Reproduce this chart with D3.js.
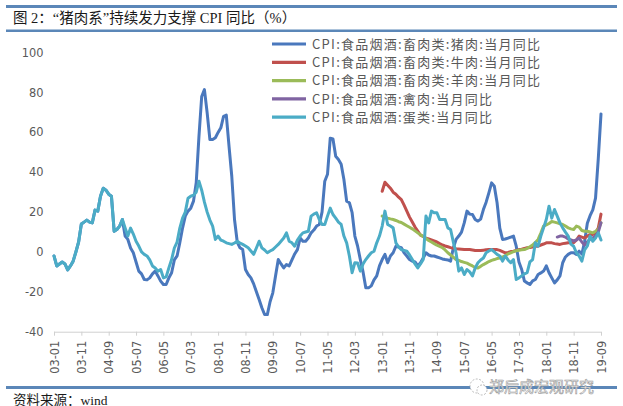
<!DOCTYPE html>
<html><head><meta charset="utf-8">
<script src="https://cdn.jsdelivr.net/npm/d3@7/dist/d3.min.js"></script>
<style>
html,body{margin:0;padding:0;background:#fff;}
svg{display:block;}
</style>
</head><body>
<script>
// ---------- DATA ----------
const startMonth = "2003-01"; // monthly series, index 0 = 2003-01, index 200 = 2019-09
const tickLabels = ["03-01","03-11","04-09","05-07","06-05","07-03","08-01","08-11","09-09","10-07",
  "11-05","12-03","13-01","13-11","14-09","15-07","16-05","17-03","18-01","18-11","19-09"];
const yTicks = [-40,-20,0,20,40,60,80,100];
const seriesNames = ["CPI:食品烟酒:畜肉类:猪肉:当月同比","CPI:食品烟酒:畜肉类:牛肉:当月同比",
  "CPI:食品烟酒:畜肉类:羊肉:当月同比","CPI:食品烟酒:禽肉:当月同比","CPI:食品烟酒:蛋类:当月同比"];
const seriesStart = [0,120,120,184,0];

const pork = [-2,-7,-6,-5,-6,-9,-7,-4.6,0,5,
 14,15,16,15,14.6,21,20.5,28,32,31,
 29,28,10.4,11.3,13,16.3,8,6.3,2,-0.4,
 -5,-9.6,-11,-13.8,-14,-13,-11,-9.6,-12,-14.6,
 -16.3,-16.3,-13,-10.4,-4,-2,4.6,12,18,20.5,
 22,25.5,34.7,58,78,81.5,69.8,56.4,56.4,57.3,
 60,62.3,68.1,68.7,53,38,16.3,5,2.1,1.2,
 -8.8,-11.3,-13,-16,-20,-23.8,-28,-31.4,-31.4,-25,
 -20.5,-12,-3.8,-6,-8,-6.3,-7,-4,-1,1.2,
 7,5.4,5.4,7,9.6,11,13,13.8,20,35.5,
 39,57.1,56.7,48,46.4,44,36.4,25.5,24.7,19.7,
 8,3,-3.8,-10,-18,-18,-17,-14,-12,-7,
 -3.8,-1.2,-5.4,-2,-0.4,2.9,2.5,2.1,-0.4,-2,
 -3.8,-4.6,-5,-7,-5.4,-3,-0.4,-1.5,-2,-2,
 -2.5,-3,-3.5,-3.8,-4,-4.6,2,6.3,8,10,
 14.6,20.5,19,18.8,16.3,15.5,16.5,21.3,25,29.7,
 34.7,33,24.7,12,6.3,6.5,7,7.5,8,2.9,
 -5,-8.8,-14.6,-15.5,-16.3,-14.5,-13.8,-11.3,-10.5,-9.6,
 -7,-10.4,-13,-15.5,-14,-12,-5.4,-2.5,-1.2,-0.4,
 -0.4,-1.2,0.4,-1,5.1,14.4,18.2,21.1,27,46.7,
 69.3];

const beef = [30.5,35,33.5,32,30,29,27.5,26.3,23.5,20.5,
 17.5,15,12.5,10.5,8.5,7.8,7,6.5,6,5.5,
 5,4.2,3.5,3,2.6,2.2,1.9,1.6,1.5,1.4,
 1.3,1.2,1.2,1,0.8,0.7,0.7,0.9,1.1,1.2,
 1.2,1.2,1.2,0.8,0.2,-0.4,-0.2,0.2,0.4,0.8,
 1.2,1.4,1.8,2.1,2.3,2.5,2.9,2.9,3.5,4,
 4.6,4.6,4.6,4.2,4,3.8,4.2,4.4,4.6,4.6,
 4.6,6,8,7.5,7,8,8.8,8.8,9.5,12,
 19];

const mutton = [18,17.5,17,16.6,16.3,15.8,15.2,14.8,14,13.2,
 12.4,11.6,10.6,9.6,8.6,7.8,6.8,5.8,5,4.2,
 3.4,2.8,2.2,1,-0.4,-1.5,-2.6,-3.8,-4.2,-4.8,
 -5.2,-5.6,-6.3,-7,-7.8,-8,-7.2,-6.3,-5.6,-4.8,
 -4.2,-3.8,-3.3,-3,-2.5,-1.8,-1,-0.4,0.2,0.6,
 0.9,1.1,1.2,1.8,2.6,3.5,4.8,6.3,9.5,13,
 13.6,14.3,15.3,15,14.6,14.2,13.8,13,12.1,11.6,
 11.3,13,12.5,10.8,10.4,10.4,10,9.6,10.4,11.3,
 14.6];

const poultry = [7.5,8,8,7.5,6.5,6,5.5,6,7,5,3.5,5,6.5,7,8,10,14.7];

const egg = [-2,-7,-6,-5,-6,-9,-7,-4.6,0,5,
 14,15,16,15,14.6,21,20.5,28,32,31,
 29,28,10.4,11.3,13,16.3,12,8,12,9,
 5.4,3,0,-1.2,-2,-4,-7,-8,-9.6,-8.8,
 -13,-12.5,-8,-3.8,2,5,12,17,20,27,
 28,28.5,30,35.5,31,25,20,16,13,6.3,
 8,6,5.4,4.6,4.2,3.8,4.5,5.4,4.5,3.8,
 3,2.1,0.5,-1.2,2,5.4,2.1,1,-0.4,0.5,
 1.2,2.5,3.8,5.4,7,9.6,5.4,4.6,2.9,6,
 8,9.6,10,10.4,18,19,19.7,16.3,13.8,13.8,
 18,22,18.8,17,15,13.8,8,4.6,-2,-10.4,
 -5.4,-5.5,-9.6,-6,-3.8,-2,-0.4,0.4,4.6,8,
 13,20.5,13.8,13,12.1,4.6,2.5,1.2,0.8,0.4,
 -1.5,-3.8,-6,-8,-6,-3.8,18,14.6,20.5,19.7,
 19.7,16.3,16.3,16.3,12.1,11.3,5,-0.4,-9.6,-8,
 -11.3,-8.8,-10,-12,-8,-5.4,-4,-3,-0.4,0.5,
 1.2,0,-1.2,-2,-4.6,-2,-4,-5.4,-3.8,-13.8,
 -13,-12,-11,-10.4,-5,-3.8,4.6,2.9,8,12.1,
 16.3,23,17,21.3,18,14.6,12.1,10,8,4,
 2.9,-0.4,-2,-4.6,1,3,8,5.4,7,9.6,
 6];

const seriesValues = [pork, beef, mutton, poultry, egg];
const colors = ["#4a78bd","#c0504d","#9bbb59","#8064a2","#4bacc6"];

// ---------- CHART ----------
const W = 623, H = 406;
const svg = d3.select("body").append("svg").attr("width", W).attr("height", H);

// decorative bars
const barColor = "#5b87b8";
svg.append("rect").attr("x",6).attr("y",5).attr("width",611).attr("height",3).attr("fill",barColor);
svg.append("rect").attr("x",6).attr("y",29.5).attr("width",611).attr("height",2.5).attr("fill",barColor);
svg.append("rect").attr("x",6).attr("y",386).attr("width",611).attr("height",3).attr("fill",barColor);

svg.append("text").attr("x",13).attr("y",23)
  .attr("font-family","'Liberation Serif','Noto Sans CJK SC',serif")
  .attr("font-size",14.5).attr("fill","#1a1a1a")
  .text("图 2：“猪肉系”持续发力支撑 CPI 同比（%）");

svg.append("text").attr("x",13).attr("y",404.5)
  .attr("font-family","'Liberation Serif','Noto Sans CJK SC',serif")
  .attr("font-size",13.5).attr("fill","#1a1a1a")
  .text("资料来源：wind");

const x = d3.scaleLinear().domain([0,200]).range([54,601]);
const y = d3.scaleLinear().domain([-40,100]).range([331.7,52.7]);

// y labels
svg.append("g").selectAll("text").data(yTicks).join("text")
  .attr("x",43.5).attr("y",d=>y(d)).attr("dy","0.35em")
  .attr("text-anchor","end")
  .attr("font-family","'DejaVu Sans',sans-serif").attr("font-size",11.4)
  .attr("fill","#595959").text(d=>d);

// x axis
const tickIdx = tickLabels.map((d,i)=>i*10);
const xAxis = d3.axisBottom(x).tickValues(tickIdx).tickSize(4)
  .tickFormat((d,i)=>tickLabels[i]);
const gx = svg.append("g").attr("transform",`translate(0,${y(-40)})`).call(xAxis);
gx.select(".domain").attr("stroke","#d0d0d0").attr("d",`M${x(0)},0.5H${x(200)}`);
gx.selectAll(".tick line").attr("stroke","#d0d0d0");
gx.selectAll(".tick text")
  .attr("font-family","'DejaVu Sans',sans-serif").attr("font-size",11.4).attr("fill","#595959")
  .attr("text-anchor","end").attr("transform","rotate(-90)")
  .attr("x",-9).attr("y",0).attr("dy","0.35em");

// lines
const line = d3.line().x(d=>x(d.i)).y(d=>y(d.v));
seriesValues.forEach((vals,k)=>{
  const pts = vals.map((v,j)=>({i:seriesStart[k]+j, v}));
  svg.append("path").datum(pts).attr("d",line)
    .attr("fill","none").attr("stroke",colors[k]).attr("stroke-width",3)
    .attr("stroke-linejoin","round").attr("stroke-linecap","round");
});

// legend
const legendW = [228,228,228,180,180];
const lg = svg.append("g");
seriesNames.forEach((n,k)=>{
  const yy = 44 + k*18.3;
  lg.append("line").attr("x1",272).attr("x2",306).attr("y1",yy).attr("y2",yy)
    .attr("stroke",colors[k]).attr("stroke-width",3.2);
  lg.append("text").attr("x",312).attr("y",yy).attr("dy","0.36em")
    .attr("font-family","'Noto Sans CJK SC',sans-serif").attr("font-size",13)
    .attr("fill","#595959").attr("textLength",legendW[k]).attr("lengthAdjust","spacing")
    .text(n);
});

// watermark
const wm = svg.append("g");
wm.append("circle").attr("cx",477).attr("cy",386).attr("r",7).attr("fill","#fff")
  .attr("stroke","#aaa").attr("stroke-width",0.8).attr("stroke-dasharray","2,1.5");
wm.append("circle").attr("cx",482).attr("cy",390).attr("r",5).attr("fill","#fff")
  .attr("stroke","#aaa").attr("stroke-width",0.8).attr("stroke-dasharray","2,1.5");
wm.append("text").attr("x",489).attr("y",392)
  .attr("font-family","'Noto Sans CJK SC',sans-serif").attr("font-size",15)
  .attr("fill","#fff").attr("stroke","#9a9a9a").attr("stroke-width",0.6)
  .text("郑后成宏观研究");
</script>
</body></html>
